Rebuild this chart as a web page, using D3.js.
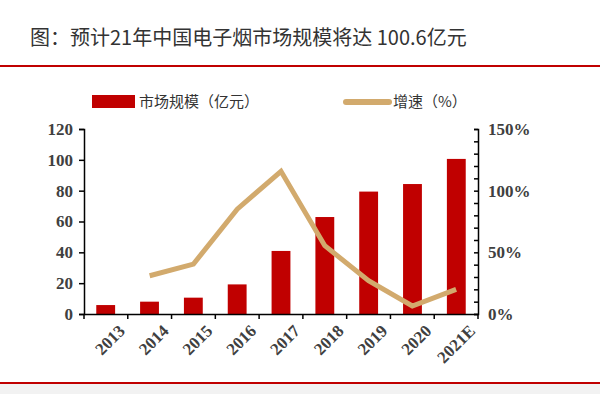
<!DOCTYPE html>
<html><head><meta charset="utf-8">
<script src="https://cdn.jsdelivr.net/npm/d3@7"></script>
<style>body{margin:0;background:#fff}</style></head>
<body><svg id="chart" width="600" height="400"></svg>
<script>
const years = ["2013","2014","2015","2016","2017","2018","2019","2020","2021E"];
const marketSize = [5.8, 8, 10.6, 19.2, 40.9, 62.9, 79.4, 84.3, 100.6];
const growth = [null, 31, 40.5, 85, 115.7, 55.4, 27, 6.5, 20];
const leftTicks = [0, 20, 40, 60, 80, 100, 120];
const rightTicks = [0, 50, 100, 150];

(function () {
const svg = d3.select("#chart");
const pLeft = 84, pRight = 478, pTop = 129, pBottom = 314;
const serif = "'Liberation Serif','Times New Roman',serif";
const cjk = "'Noto Sans CJK SC',sans-serif";

// title and frame lines
svg.append("text").attr("x", 30).attr("y", 45)
    .style("font-family", cjk).style("font-size", "20px").style("fill", "#333")
    .text("图：预计21年中国电子烟市场规模将达 100.6亿元");
svg.append("rect").attr("x", 0).attr("y", 65).attr("width", 600).attr("height", 2).attr("fill", "#c00000");
svg.append("rect").attr("x", 0).attr("y", 384).attr("width", 600).attr("height", 10).attr("fill", "#f2f2f2");
svg.append("rect").attr("x", 0).attr("y", 382).attr("width", 600).attr("height", 2).attr("fill", "#c00000");

const x = d3.scaleBand().domain(years).range([pLeft, pRight]).paddingInner(0.57).paddingOuter(0.28);
const xb = d3.scaleBand().domain(years).range([pLeft, pRight]);
const y = d3.scaleLinear().domain([0, 120]).range([pBottom, pTop]);
const y2 = d3.scaleLinear().domain([0, 150]).range([pBottom, pTop]);

// bars
svg.append("g").selectAll("rect").data(years).enter().append("rect")
    .attr("x", d => x(d)).attr("width", x.bandwidth())
    .attr("y", (d, i) => y(marketSize[i])).attr("height", (d, i) => pBottom - y(marketSize[i]))
    .attr("fill", "#c00000");

// growth line
const pts = years.map((d, i) => [d, growth[i]]).filter(p => p[1] !== null);
svg.append("path").datum(pts)
    .attr("d", d3.line().x(p => xb(p[0]) + xb.bandwidth() / 2).y(p => y2(p[1])))
    .attr("fill", "none").attr("stroke", "#d2aa6d").attr("stroke-width", 5);

// axes
const axL = svg.append("g").attr("transform", `translate(${pLeft},0)`)
    .call(d3.axisLeft(y).tickValues(leftTicks).tickSize(5).tickPadding(6));
const axR = svg.append("g").attr("transform", `translate(${pRight},0)`)
    .call(d3.axisRight(y2).tickValues(d3.range(0, 151, 10)).tickSize(-4).tickPadding(10)
        .tickFormat(d => rightTicks.includes(d) ? d + "%" : ""));
const axB = svg.append("g").attr("transform", `translate(0,${pBottom})`)
    .call(d3.axisBottom(xb).tickSize(0).tickPadding(8));
// boundary ticks on x axis
svg.append("g").selectAll("line").data(d3.range(years.length + 1)).enter().append("line")
    .attr("x1", i => pLeft + i * xb.step()).attr("x2", i => pLeft + i * xb.step())
    .attr("y1", pBottom).attr("y2", pBottom + 5).attr("stroke", "#000").attr("stroke-width", 1.5);

[axL, axR, axB].forEach(a => {
    a.selectAll("path,line").attr("stroke", "#000").attr("stroke-width", 1.5);
    a.selectAll("text").style("font-family", serif).style("font-weight", "bold")
        .style("font-size", "17px").style("fill", "#404040");
});
axB.selectAll("text").attr("text-anchor", "end")
    .attr("transform", "translate(6,4) rotate(-45)").attr("dy", "0.7em");

// legend
const lg = svg.append("g").style("font-family", cjk).style("font-size", "15px").style("fill", "#333");
lg.append("rect").attr("x", 92).attr("y", 95).attr("width", 43).attr("height", 13).attr("fill", "#c00000");
lg.append("text").attr("x", 139).attr("y", 107).text("市场规模（亿元）");
lg.append("line").attr("x1", 346).attr("x2", 389).attr("y1", 102).attr("y2", 102)
    .attr("stroke", "#d2aa6d").attr("stroke-width", 6).attr("stroke-linecap", "round");
lg.append("text").attr("x", 393).attr("y", 107).text("增速（%）");
})();
</script></body></html>
